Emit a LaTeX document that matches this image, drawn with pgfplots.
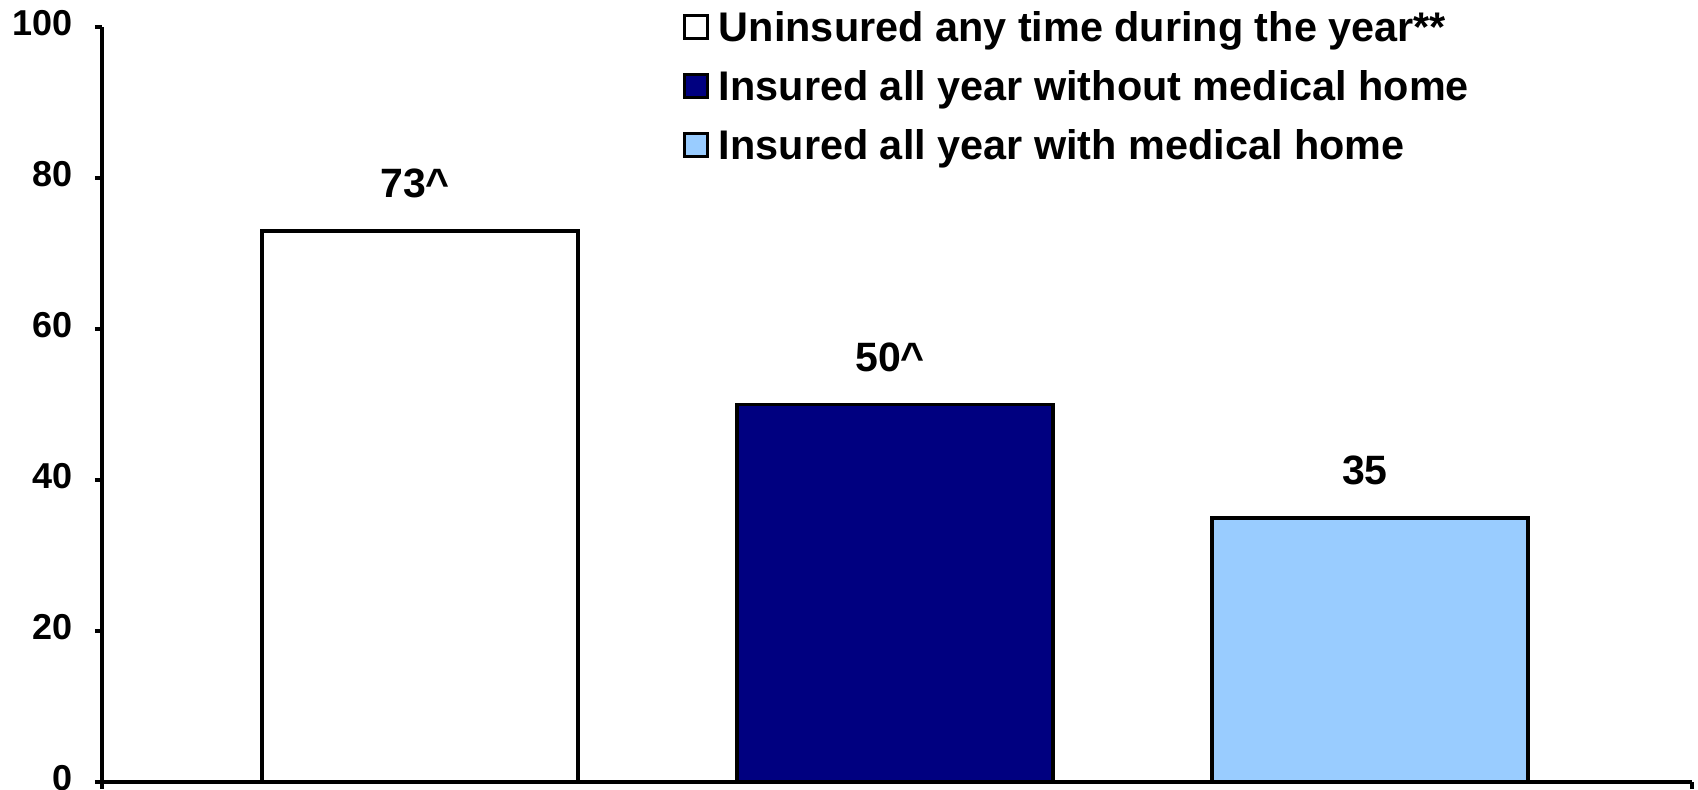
\documentclass[border=0pt]{standalone}
\usepackage{pgfplots}
\pgfplotsset{compat=1.18}
\usepackage{fontspec}
\setmainfont{Liberation Sans}

\definecolor{navybar}{HTML}{000080}
\definecolor{skybar}{HTML}{99CCFF}

\pgfplotsset{
  square legend/.style={
    legend image code/.code={\draw[##1, line width=1.6pt, bar shift=0pt] (0pt,-5.6pt) rectangle (11.4pt,5.6pt);}
  },
}

\begin{document}
\begin{tikzpicture}
\path[use as bounding box] (-51pt,-3.5pt) rectangle (798pt,391pt);
\begin{axis}[
  at={(0pt,0pt)}, anchor=south west,
  scale only axis, width=795pt, height=377.5pt,
  clip=false,
  xmin=0.3305, xmax=3.678, ymin=0, ymax=100,
  axis x line*=bottom, axis y line*=left,
  axis line style={line width=1.6pt},
  xtick={0.3305,3.678}, xticklabels={},
  ytick={0,20,40,60,80,100},
  tick align=outside, major tick length=3.5pt,
  every tick/.style={black, line width=1.6pt},
  /pgf/number format/assume math mode=true,
  yticklabel style={font=\fontsize{18}{18}\selectfont\bfseries, inner sep=0pt, xshift=-11pt, yshift=2pt},
  ybar, bar width=158pt, bar shift=0pt,
  square legend,
  nodes near coords,
  point meta=explicit symbolic,
  every node near coord/.append style={anchor=base, inner sep=0pt, yshift=16.5pt, xshift=-2.5pt,
    font=\fontsize{20.5}{20.5}\selectfont\bfseries, black},
  legend style={draw=none, fill=none, inner sep=0pt, outer sep=0pt,
    at={(axis description cs:0.3654,1.0391)}, anchor=north west,
    row sep=0pt, column sep=5pt,
    font=\fontsize{20.7}{20.7}\selectfont\bfseries,
    nodes={inner sep=0pt, text height=22.1pt, text depth=7.4pt}},
  legend cell align=left,
]
\addplot[fill=white, draw=black, line width=1.75pt, bar shift=0pt]
  coordinates {(1,73) [73\textasciicircum]};
\addplot[fill=navybar, draw=black, line width=1.75pt, bar shift=0pt]
  coordinates {(2,50) [50\textasciicircum]};
\addplot[fill=skybar, draw=black, line width=1.75pt, bar shift=0pt]
  coordinates {(3,35) [35]};
\legend{Uninsured any time during the year**,
        Insured all year without medical home,
        Insured all year with medical home}
\end{axis}
\end{tikzpicture}
\end{document}
